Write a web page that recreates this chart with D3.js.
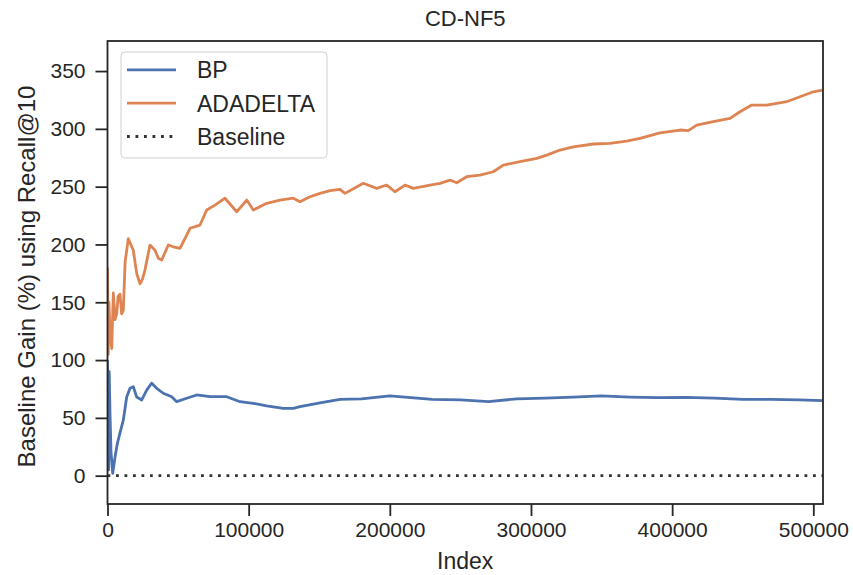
<!DOCTYPE html>
<html><head><meta charset="utf-8">
<script src="https://cdn.jsdelivr.net/npm/d3@7"></script>
<style>body{margin:0;background:#fff}text{font-family:"Liberation Sans",Arial,sans-serif;fill:#262626}</style>
</head><body><svg id="c" width="853" height="575"></svg>
<script>
const title = "CD-NF5";
const xLabel = "Index";
const yLabel = "Baseline Gain (%) using Recall@10";
const seriesNames = ["BP", "ADADELTA", "Baseline"];
const xTicks = [0, 100000, 200000, 300000, 400000, 500000];
const yTicks = [0, 50, 100, 150, 200, 250, 300, 350];

const bpIndex = [0,300,800,1200,1771,2500,3684,5313,7000,8855,11193,13602,15939,18277,20686,24228,27770,31312,34854,39530,45481,49022,56106,63191,72613,84443,93865,103287,112780,124540,131624,136370,150538,164707,180000,200000,215000,230000,250000,270000,290000,310000,330000,350000,370000,390000,410000,430000,450000,470000,490000,506500];
const bpValues = [100,60,5,90,54,20,2,16,28,37,48,68,75.6,77,68,65.5,74,80,75.6,71.3,68.3,64,67,69.8,68.3,68.3,64,62.6,60.3,58.3,58.3,59.7,63,66,66.5,69,67.5,66,65.5,64,66.5,67,68,69,68,67.5,67.8,67,66,66,65.5,65];

const adaIndex = [0,500,1000,1771,3000,4109,5313,6517,7500,8855,10000,11193,12500,14735,16500,18277,20686,23023,24800,26566,30108,33650,36000,38396,43072,46614,51360,56106,58444,65528,70275,76155,83239,91527,98611,103287,112780,122202,131624,136370,143454,150538,157623,164707,168249,181213,190706,197790,203670,210754,216634,228464,235548,242632,247379,254463,263885,273307,280391,292222,304052,311136,320558,329980,344148,355978,367809,377231,391399,405568,411448,417398,429158,440989,448073,456362,466988,481156,490578,500000,506500];
const adaValues = [180,105,150,126,110,158,135,140,155,157,140,143,185,205,200,195,175,166,170,178,199.5,195,188,186.5,199.5,198,196.6,208,214,216.8,229.8,234,240,228.3,238.4,229.8,235.6,238.4,240,237,241.3,244.2,246.5,247.7,244.2,252.9,248.5,251.4,245.6,251.4,248.5,251.4,252.9,255.7,253.4,258.6,260,262.9,268.7,271.6,274.5,277.3,281.7,284.5,286.9,287.5,289.4,291.8,296.6,299,298.4,303.3,306.2,309.1,314.8,320.6,320.6,323.5,327.8,332.1,333.6];

const baselineValue = 0;

const colors = ["#4c72b0", "#dd8452", "#333333"];

const svg = d3.select("#c");
const L = 107.5, R = 823, T = 41, B = 504;
const x = d3.scaleLinear().domain([0, 506870]).range([L, R]);
const y = d3.scaleLinear().domain([-24.5, 376]).range([B, T]);

const g = svg.append("g");
svg.append("defs").append("clipPath").attr("id","pc").append("rect")
  .attr("x", L).attr("y", T).attr("width", R-L).attr("height", B-T);

const line = d3.line().x(d => x(d[0])).y(d => y(d[1]));
const plot = g.append("g").attr("clip-path","url(#pc)");
plot.append("path").datum(d3.zip(adaIndex, adaValues)).attr("d", line)
  .attr("fill","none").attr("stroke", colors[1]).attr("stroke-width", 2.8).attr("stroke-linejoin","round");
plot.append("path").datum(d3.zip(bpIndex, bpValues)).attr("d", line)
  .attr("fill","none").attr("stroke", colors[0]).attr("stroke-width", 2.8).attr("stroke-linejoin","round");
plot.append("line").attr("x1", L).attr("x2", R).attr("y1", y(baselineValue)).attr("y2", y(baselineValue))
  .attr("stroke", colors[2]).attr("stroke-width", 2.8).attr("stroke-dasharray","2.8,5.7");

// axes
const xa = g.append("g").attr("transform", `translate(0,${B})`)
  .call(d3.axisBottom(x).tickValues(xTicks).tickFormat(d3.format("d")).tickSize(12).tickPadding(6));
const ya = g.append("g").attr("transform", `translate(${L},0)`)
  .call(d3.axisLeft(y).tickValues(yTicks).tickSize(12).tickPadding(10));
[xa, ya].forEach(a => {
  a.select(".domain").remove();
  a.selectAll(".tick line").attr("stroke","#262626").attr("stroke-width",1.8);
  a.selectAll(".tick text").attr("font-size", 21).style("fill","#262626");
});
// frame
g.append("rect").attr("x", L).attr("y", T).attr("width", R-L).attr("height", B-T)
  .attr("fill","none").attr("stroke","#262626").attr("stroke-width",1.8);

svg.append("text").attr("x", (L+R)/2).attr("y", 26).attr("text-anchor","middle")
  .attr("font-size", 22).text(title);
svg.append("text").attr("x", (L+R)/2).attr("y", 569).attr("text-anchor","middle")
  .attr("font-size", 23).text(xLabel);
svg.append("text").attr("transform", `translate(35,${(T+B)/2 + 4}) rotate(-90)`).attr("text-anchor","middle")
  .attr("font-size", 24).text(yLabel);

// legend
const lg = svg.append("g");
lg.append("rect").attr("x", 121).attr("y", 52).attr("width", 206).attr("height", 106).attr("rx", 4)
  .attr("fill","white").attr("fill-opacity",0.8).attr("stroke","#d0d0d0").attr("stroke-width",1);
const rows = [78.3, 111.7, 145];
seriesNames.forEach((n, i) => {
  const l = lg.append("line").attr("x1", 127).attr("x2", 176).attr("y1", rows[i] - 8.5).attr("y2", rows[i] - 8.5)
    .attr("stroke", colors[i]).attr("stroke-width", 2.8);
  if (i === 2) l.attr("stroke-dasharray","2.8,5.7");
  lg.append("text").attr("x", 197).attr("y", rows[i]).attr("font-size", 23).text(n);
});
</script></body></html>
